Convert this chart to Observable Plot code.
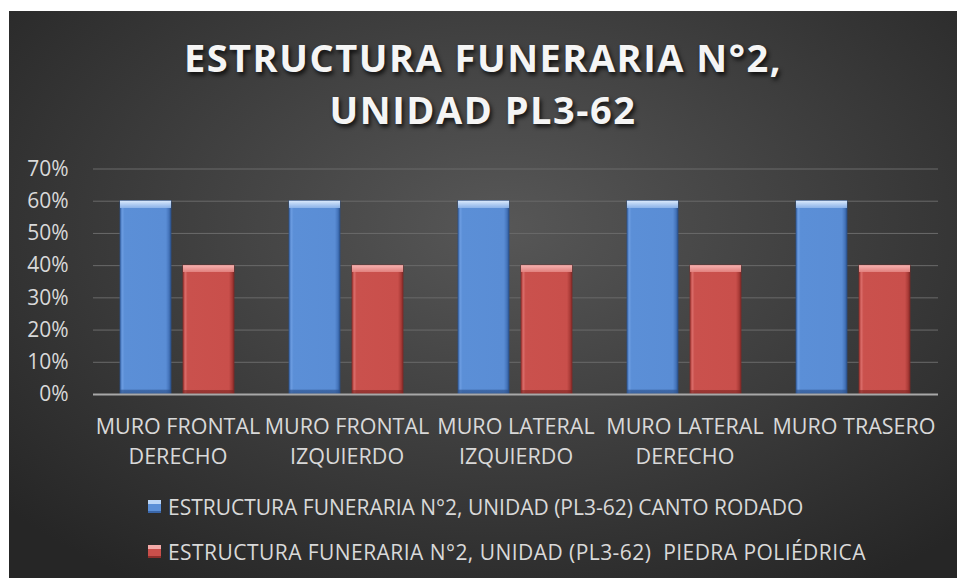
<!DOCTYPE html>
<html>
<head>
<meta charset="utf-8">
<script src="https://cdn.jsdelivr.net/npm/d3@7"></script>
<script src="https://cdn.jsdelivr.net/npm/@observablehq/plot@0.6"></script>
<style>
  html, body { margin: 0; padding: 0; background: #ffffff; }
  #chart {
    position: absolute; left: 9px; top: 11px; width: 948px; height: 567px;
    background: radial-gradient(ellipse 70% 75% at 52% 38%, #575757 0%, #3c3c3c 55%, #262626 100%);
    overflow: hidden;
    font-family: "Open Sans", sans-serif;
  }
  #title {
    position: absolute; left: 0; top: 20px; width: 948px; text-align: center;
    color: #f5f5f5; font-weight: 700; font-size: 38px; line-height: 52px;
    letter-spacing: 1.5px;
    text-shadow: 2px 3px 4px rgba(0,0,0,0.75);
  }
  #plot { position: absolute; left: 0; top: 139px; }
  #legend { position: absolute; left: 139px; top: 473px; color: #d9d9d9; font-size: 21px; }
  .lg-row { height: 45px; display: flex; align-items: center; white-space: pre; }
  .lg-sw { width: 13px; height: 13px; margin-right: 7px; display: inline-block; }
</style>
</head>
<body>
<div id="chart">
  <div id="title"></div>
  <div id="plot"></div>
  <div id="legend"></div>
</div>
<script>
// ---- data ----
const titleLines = ["ESTRUCTURA FUNERARIA N°2,", "UNIDAD PL3-62"];
const categories = ["MURO FRONTAL DERECHO", "MURO FRONTAL IZQUIERDO", "MURO LATERAL IZQUIERDO", "MURO LATERAL DERECHO", "MURO TRASERO"];
const categoryLabels = ["MURO FRONTAL\nDERECHO", "MURO FRONTAL\nIZQUIERDO", "MURO LATERAL\nIZQUIERDO", "MURO LATERAL\nDERECHO", "MURO TRASERO"];
const seriesNames = [
  "ESTRUCTURA FUNERARIA N°2, UNIDAD (PL3-62) CANTO RODADO",
  "ESTRUCTURA FUNERARIA N°2, UNIDAD (PL3-62)  PIEDRA POLIÉDRICA"
];
const cantoRodado = [0.60, 0.60, 0.60, 0.60, 0.60];
const piedraPoliedrica = [0.40, 0.40, 0.40, 0.40, 0.40];
const yTicks = [0, 0.1, 0.2, 0.3, 0.4, 0.5, 0.6, 0.7];

const rows = [];
categories.forEach((c, i) => {
  rows.push({cat: c, series: seriesNames[0], value: cantoRodado[i]});
  rows.push({cat: c, series: seriesNames[1], value: piedraPoliedrica[i]});
});
const rowsA = rows.filter(d => d.series === seriesNames[0]);
const rowsB = rows.filter(d => d.series === seriesNames[1]);
const labelOf = new Map(categories.map((c, i) => [c, categoryLabels[i]]));

document.getElementById("title").innerHTML = titleLines.join("<br>");

const svg = Plot.plot({
  width: 948,
  height: 325,
  marginTop: 18.5,
  marginBottom: 81,
  marginLeft: 82,
  marginRight: 17,
  style: {background: "transparent", color: "#d9d9d9", fontFamily: "Open Sans, sans-serif"},
  fx: {domain: categories, paddingInner: 0, paddingOuter: 0, label: null},
  x: {domain: seriesNames, paddingInner: 0.1875, paddingOuter: 0.422, axis: null},
  y: {domain: [0, 0.7], label: null},
  marks: [
    Plot.gridY(yTicks, {stroke: "#6a6a6a", strokeOpacity: 1, strokeWidth: 1}),
    Plot.barY(rowsA, {fx: "cat", x: "series", y: "value", fill: "url(#gBlueH)", stroke: "#2c4f86", strokeWidth: 0.8}),
    Plot.barY(rowsA, {fx: "cat", x: "series", y: "value", fill: "url(#gBlueV)"}),
    Plot.barY(rowsB, {fx: "cat", x: "series", y: "value", fill: "url(#gRedH)", stroke: "#7e2a27", strokeWidth: 0.8}),
    Plot.barY(rowsB, {fx: "cat", x: "series", y: "value", fill: "url(#gRedV)"}),
    Plot.ruleY([0], {stroke: "#a8a8a8", strokeWidth: 2.2}),
    Plot.axisY({ticks: yTicks, tickFormat: d3.format(".0%"), tickSize: 0, tickPadding: 25, fontSize: 21, label: null}),
    Plot.axisFx({anchor: "bottom", tickFormat: d => labelOf.get(d), tickSize: 0, tickPadding: 19, fontSize: 21.5, lineHeight: 1.36, label: null})
  ]
});

// gradient definitions for the bevelled bars
const defs = d3.create("svg:defs");
function hGrad(id, stops) {
  const g = defs.append("linearGradient").attr("id", id).attr("x1", 0).attr("x2", 1).attr("y1", 0).attr("y2", 0);
  stops.forEach(([o, c, a]) => g.append("stop").attr("offset", o).attr("stop-color", c).attr("stop-opacity", a ?? 1));
}
function vGrad(id, stops) {
  const g = defs.append("linearGradient").attr("id", id).attr("x1", 0).attr("x2", 0).attr("y1", 0).attr("y2", 1);
  stops.forEach(([o, c, a]) => g.append("stop").attr("offset", o).attr("stop-color", c).attr("stop-opacity", a ?? 1));
}
hGrad("gBlueH", [[0, "#4676bd"], [0.05, "#6a9be0"], [0.09, "#5b8fd7"], [0.9, "#5a8dd5"], [0.95, "#4878bf"], [1, "#2f5a98"]]);
vGrad("gBlueV", [[0, "#dbeafc", 1], [0.036, "#94b9ec", 0.9], [0.037, "#94b9ec", 0], [0.975, "#2a4d85", 0], [0.98, "#2a4d85", 0.55], [1, "#2a4d85", 0.7]]);
hGrad("gRedH", [[0, "#b0403c"], [0.05, "#d96a67"], [0.09, "#ca514d"], [0.9, "#c94f4b"], [0.95, "#b03f3b"], [1, "#8a2c29"]]);
vGrad("gRedV", [[0, "#f6b3b1", 1], [0.054, "#e48683", 0.9], [0.055, "#e48683", 0], [0.965, "#7a2522", 0], [0.97, "#7a2522", 0.55], [1, "#7a2522", 0.7]]);
svg.insertBefore(defs.node(), svg.firstChild);

document.getElementById("plot").appendChild(svg);

// legend
const legend = d3.select("#legend");
const swatchBg = [
  "linear-gradient(#bcd6f7 0 30%, #5b8fd7 30% 85%, #3a66a8 85%)",
  "linear-gradient(#f3aaa8 0 30%, #c94f4b 30% 85%, #8f2f2c 85%)"
];
const rowSpacing = ["0px", "0.45px"];
seriesNames.forEach((s, i) => {
  const r = legend.append("div").attr("class", "lg-row");
  r.append("span").attr("class", "lg-sw").style("background", swatchBg[i]);
  r.append("span").style("letter-spacing", rowSpacing[i]).text(s);
});
</script>
</body>
</html>
